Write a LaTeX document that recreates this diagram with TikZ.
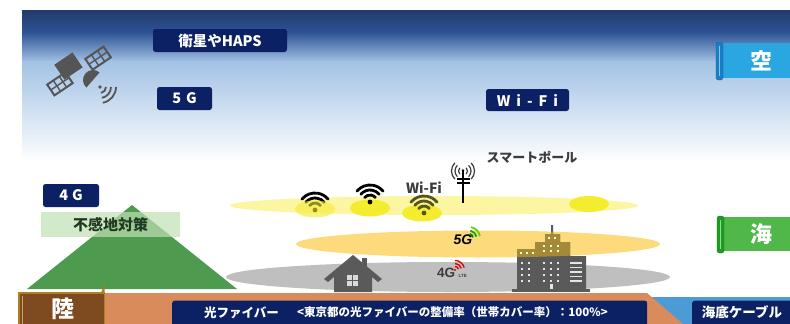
\documentclass[tikz,border=0pt]{standalone}
\usepackage{fontspec}
\setmainfont{Noto Sans CJK JP}
\newfontfamily\latinfont{Liberation Sans}
\definecolor{navy}{HTML}{0B2163}
\definecolor{skytop}{HTML}{223B6C}
\definecolor{skymid}{HTML}{2E5495}
\definecolor{skylight}{HTML}{A3C2E5}
\definecolor{mount}{HTML}{4E9A4E}
\definecolor{ground}{HTML}{D98B5B}
\definecolor{sea}{HTML}{4C9BD6}
\definecolor{landbox}{HTML}{7E4A1F}
\definecolor{landedge}{HTML}{B07E22}
\definecolor{skyrib}{HTML}{2AA6E1}
\definecolor{skyribedge}{HTML}{1A7EC6}
\definecolor{searib}{HTML}{4FB848}
\definecolor{searibedge}{HTML}{1E9B21}
\definecolor{wifiband}{HTML}{FCF6A2}
\definecolor{wifispot}{HTML}{F4EC2E}
\definecolor{band5g}{HTML}{FDDB7D}
\definecolor{band4g}{HTML}{BFBFBF}
\definecolor{icongray}{HTML}{5A5A5A}
\definecolor{olivebld}{HTML}{A48A38}
\definecolor{grnbox}{HTML}{C0E0B4}
\definecolor{grntext}{HTML}{1F3A1F}
\definecolor{textgray}{HTML}{3C3C3C}
\definecolor{satgray}{HTML}{555555}
\definecolor{wifiolive}{HTML}{55551C}
\tikzset{
  tagbox/.style={fill=navy, text=white, rounded corners=2.5pt, inner sep=0pt,
    font=\bfseries\fontsize{14.5}{15}\selectfont},
  plain/.style={inner sep=0pt},
  wifiarc/.style={line width=2.8pt, line cap=round},
  ribtext/.style={inner sep=0pt, text=white, font=\bfseries\fontsize{22}{22}\selectfont},
}
% Wi-Fi symbol: dot at (#1,#2), colour #3
\newcommand\wifisym[3]{%
  \foreach \r in {7,12,17}
    \draw[wifiarc,#3] ([shift={(#1,#2)}]-140:\r) arc[start angle=-140,end angle=-40,radius=\r];
  \fill[#3] (#1,#2) circle[radius=2.4];}
\begin{document}
\begin{tikzpicture}[x=1pt,y=-1pt]
\useasboundingbox (0,0) rectangle (790,324);
\fill[white] (0,0) rectangle (790,324);

% sky
\shade[top color=skytop, bottom color=skymid] (22,10) rectangle (790,33);
\shade[top color=skymid, bottom color=skylight] (22,32.5) rectangle (790,62);
\shade[top color=skylight, bottom color=white] (22,61.5) rectangle (790,162);

% sea and land strip
\fill[sea] (600,297) rectangle (790,324);
\fill[ground] (18,293) -- (647,293) -- (683,324) -- (18,324) -- cycle;

% mountain and the coverage label over it
\fill[mount] (27,289) -- (132,205) -- (237,289) -- cycle;
\node[plain, fill=grnbox, fill opacity=0.7, text opacity=1, text=grntext,
  minimum width=139pt, minimum height=25pt,
  font=\bfseries\fontsize{15}{15}\selectfont] (blind) at (110.5,224.5) {不感地対策};

% coverage bands
\fill[band4g] (448,277) ellipse[x radius=222, y radius=15];
\fill[band5g] (478,244) ellipse[x radius=182, y radius=13.5];
\fill[wifiband] (434,205.5) ellipse[x radius=204, y radius=9.5];

% Wi-Fi hot spots
\wifisym{315}{210}{black}
\fill[wifispot, opacity=0.6] (315,209) ellipse[x radius=20, y radius=8.5];
\fill[wifispot] (370,208) ellipse[x radius=20, y radius=8.5];
\wifisym{370}{202}{black}
\fill[wifispot] (422,213) ellipse[x radius=20, y radius=8.5];
\wifisym{424}{213}{wifiolive}
\fill[wifispot] (589,204) ellipse[x radius=20, y radius=8];

% house
\fill[icongray] (324,279) -- (353,255) -- (382,279) -- (378,282) -- (372,277)
  -- (372,292) -- (334,292) -- (334,277) -- (328,282) -- cycle;
\fill[icongray] (362,258) rectangle (367,268);
\foreach \x in {347,353} \foreach \y in {275,281}
  \fill[gray!30] (\x,\y) rectangle ++(5,5);

% office building
\def\bldpath{(517,289) -- (517,249) -- (535,249) -- (535,242) -- (545,242) -- (545,234)
  -- (551,234) -- (551,225) -- (553,225) -- (553,234) -- (560,234) -- (560,242)
  -- (570,242) -- (570,256) -- (586,256) -- (586,289) -- cycle}
\fill[icongray] \bldpath;
\begin{scope}
  \clip (478,244) ellipse[x radius=182, y radius=13.5];
  \fill[olivebld] \bldpath;
\end{scope}
\fill[icongray] (512,289) rectangle (590,292);
\foreach \x in {548,554} \fill[yellow!20] (\x,237) rectangle ++(2.2,2.2);
\foreach \x in {542.5,549.5,556.5} \foreach \y in {245,250}
  \fill[yellow!20] (\x,\y) rectangle ++(2.2,2.2);
\foreach \x in {520,526,532} \fill[yellow!20] (\x,252) rectangle ++(2.2,2.2);
\foreach \x in {521,528,543,550,557} \foreach \y in {262,268,274,280}
  \fill[gray!20] (\x,\y) rectangle ++(2.2,2.2);
\foreach \y in {262,266.5,271,275.5,280}
  \fill[gray!20] (570,\y) rectangle ++(12,1.5);
\fill[gray!20] (549.5,284) rectangle (553,289);

% 5G and 4G LTE marks
\node[plain, font=\latinfont\bfseries\itshape\fontsize{14}{14}\selectfont] (mark5g) at (463,240) {5G};
\draw[line width=1.8pt, green!50!black] ([shift={(469,238)}]-80:4) arc[start angle=-80,end angle=-10,radius=4];
\draw[line width=1.8pt, green!60!black!90] ([shift={(469,238)}]-80:7.5) arc[start angle=-80,end angle=-10,radius=7.5];
\draw[line width=1.8pt, green!70!black!60!yellow] ([shift={(469,238)}]-80:11) arc[start angle=-80,end angle=-10,radius=11];
\node[plain, text=textgray, font=\latinfont\bfseries\fontsize{13.5}{14}\selectfont] (mark4g) at (446,273) {4G};
\node[plain, text=textgray, font=\latinfont\bfseries\fontsize{4.5}{5}\selectfont, anchor=west] (marklte) at (458.5,275.5) {LTE};
\foreach \r in {3.5,6.5,9.5}
  \draw[line width=1.3pt, red!85!black] ([shift={(455,270)}]-90:\r) arc[start angle=-90,end angle=-15,radius=\r];
\fill[red!85!black] (455,270) circle[radius=1.2];

% smart pole
\draw[line width=2.6pt] (463,177) -- (463,203);
\draw[line width=1.4pt] (457,179) -- (470,179) (457,183) -- (470,183);
\draw[line width=1.2pt] (463,170) -- (463,177);
\fill (463,170.5) circle[radius=1.4];
\foreach \r in {4.5,8,11.5} {
  \draw[line width=1.2pt, textgray] ([shift={(463,171)}]135:\r) arc[start angle=135,end angle=225,radius=\r];
  \draw[line width=1.2pt, textgray] ([shift={(463,171)}]-45:\r) arc[start angle=-45,end angle=45,radius=\r];
}
\node[plain, text=textgray, font=\bfseries\fontsize{13}{13}\selectfont] (pole) at (532,157) {スマートポール};
\node[plain, text=textgray, font=\bfseries\fontsize{14}{14}\selectfont] (wifilbl) at (424,188) {Wi-Fi};

% satellite
\begin{scope}[shift={(79,71)}, rotate=34]
  \fill[satgray] (-17,-19) rectangle (5,-1);
  \foreach \a/\b in {-34/-12, 12/34} {
    \draw[satgray, line width=2pt] (\a,-6.5) rectangle (\b,6.5);
    \draw[satgray, line width=1.4pt] (\a,0) -- (\b,0);
    \draw[satgray, line width=1.4pt] ({\a+22/3},-6.5) -- ({\a+22/3},6.5) ({\a+44/3},-6.5) -- ({\a+44/3},6.5);
  }
\end{scope}
\fill[satgray] ([shift={(93,80)}]131:10) arc[start angle=131,end angle=311,radius=10] -- cycle;
\fill[satgray] (100,87) circle[radius=1.8];
\foreach \r in {6,11,16}
  \draw[satgray, line width=1.8pt] ([shift={(100,87)}]0:\r) arc[start angle=0,end angle=80,radius=\r];

% service tags
\node[tagbox, minimum width=134pt, minimum height=23pt] (haps) at (220,40.5) {衛星やHAPS};
\node[tagbox, minimum width=55pt, minimum height=23pt] (tag5g) at (184.5,98.5) {5\hspace{5pt}G};
\node[tagbox, minimum width=83pt, minimum height=22pt] (tagwifi) at (527.5,100) {W\hspace{6pt}i\hspace{6pt}-\hspace{6pt}F\hspace{6pt}i};
\node[tagbox, minimum width=56pt, minimum height=23pt] (tag4g) at (71,195.5) {4\hspace{4pt}G};

% sky and sea ribbons
\fill[skyrib] (721,43) rectangle (790,78);
\draw[fill=skyribedge, draw=skyribedge!80!black, rounded corners=2.5pt] (716,42) rectangle (723,80);
\draw[skyrib!60!white, line width=1pt] (719.5,46) -- (719.5,76);
\node[ribtext] (sky) at (761,60.5) {空};
\fill[searib] (722,217) rectangle (790,251);
\draw[fill=searibedge, draw=searibedge!80!black, rounded corners=2.5pt] (717,216) rectangle (724,253);
\draw[searib!60!white, line width=1pt] (720.5,220) -- (720.5,249);
\node[ribtext] (sea) at (761,234.5) {海};

% land tag
\draw[landedge, fill=landbox, line width=1.2pt] (19,293) rectangle (104.5,328);
\draw[landedge!70!white, line width=0.8pt] (22.5,296) -- (22.5,328);
\fill[landedge] (101,293) -- (104.5,284) -- (104.5,293) -- cycle;
\node[ribtext, font=\bfseries\fontsize{23}{23}\selectfont] (land) at (63,309) {陸};

% cable tags
\node[tagbox, minimum width=475pt, minimum height=27pt, anchor=north west] (fiber) at (172,300.5) {};
\node[plain, text=white, font=\bfseries\fontsize{12.5}{13}\selectfont] (fiberlbl) at (241.5,312.5) {光ファイバー};
\node[plain, text=white, font=\bfseries\fontsize{11.5}{12}\selectfont, anchor=west] (fiberrate) at (297,312.5) {<東京都の光ファイバーの整備率（世帯カバー率）：100\%>};
\node[tagbox, minimum width=100pt, minimum height=27pt, anchor=north west] (subsea) at (692,300.5) {};
\node[plain, text=white, font=\bfseries\fontsize{13.5}{14}\selectfont] (subsealbl) at (742,312.5) {海底ケーブル};
\end{tikzpicture}
\end{document}
